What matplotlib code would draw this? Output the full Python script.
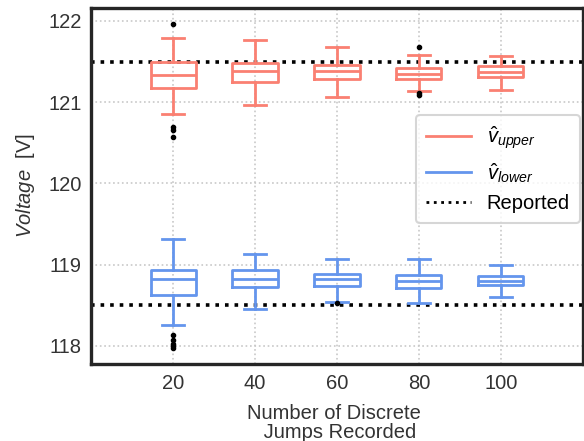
import matplotlib.pyplot as plt
import numpy as np

plt.rcParams['font.family'] = ['Liberation Sans', 'DejaVu Sans']
plt.rcParams['mathtext.fontset'] = 'custom'
plt.rcParams['mathtext.rm'] = 'Liberation Sans'
plt.rcParams['mathtext.it'] = 'Liberation Sans:italic'

jumps = [20, 40, 60, 80, 100]
reported_upper = 121.5
reported_lower = 118.5

# upper estimate: whisker low, q1, median, q3, whisker high
up_whislo = [120.86, 120.96, 121.07, 121.14, 121.15]
up_q1 = [121.17, 121.25, 121.29, 121.29, 121.31]
up_med = [121.34, 121.38, 121.38, 121.35, 121.37]
up_q3 = [121.49, 121.48, 121.46, 121.42, 121.44]
up_whishi = [121.79, 121.77, 121.68, 121.58, 121.57]
up_fliers = [[121.96, 120.69, 120.66, 120.57], [], [], [121.68, 121.11, 121.09], []]

# lower estimate
lo_whislo = [118.26, 118.46, 118.54, 118.53, 118.60]
lo_q1 = [118.63, 118.73, 118.74, 118.71, 118.75]
lo_med = [118.83, 118.83, 118.82, 118.80, 118.80]
lo_q3 = [118.94, 118.93, 118.89, 118.87, 118.86]
lo_whishi = [119.32, 119.13, 119.07, 119.07, 119.00]
lo_fliers = [[118.14, 118.07, 118.03, 118.00, 117.97], [], [118.53], [], []]


def make_stats(whislo, q1, med, q3, whishi, fliers):
    return [dict(whislo=a, q1=b, med=c, q3=d, whishi=e, fliers=f)
            for a, b, c, d, e, f in zip(whislo, q1, med, q3, whishi, fliers)]


fig = plt.figure(figsize=(5.84, 4.41), dpi=100)
ax = fig.add_axes([0.156, 0.175, 0.842, 0.807])

red = '#fa8072'
blue = '#6495ed'
flier = dict(marker='o', markerfacecolor='black', markeredgecolor='black', markersize=3)

for stats, col in [(make_stats(up_whislo, up_q1, up_med, up_q3, up_whishi, up_fliers), red),
                   (make_stats(lo_whislo, lo_q1, lo_med, lo_q3, lo_whishi, lo_fliers), blue)]:
    lp = dict(color=col, linewidth=2)
    ax.bxp(stats, positions=jumps, widths=11, boxprops=lp, whiskerprops=lp,
           capprops=lp, medianprops=lp, flierprops=flier, manage_ticks=False)

ax.axhline(reported_upper, color='black', linestyle=':', linewidth=2.6, zorder=1)
ax.axhline(reported_lower, color='black', linestyle=':', linewidth=2.6, zorder=1)

ax.plot([], [], color=red, linewidth=2, label=r'$\hat{v}_{upper}$')
ax.plot([], [], color=blue, linewidth=2, label=r'$\hat{v}_{lower}$')
ax.plot([], [], color='black', linestyle=':', linewidth=2, label='Reported')

ax.set_xlim(0, 120)
ax.set_ylim(117.78, 122.16)
ax.set_xticks(jumps)
ax.set_xticklabels([str(j) for j in jumps])
ax.set_yticks([118, 119, 120, 121, 122])
ax.tick_params(length=0, labelsize=14.5, labelcolor='#333333', pad=7)
ax.grid(True, linestyle=':', color='#c8c8c8', linewidth=1.2)
ax.set_axisbelow(True)
for s in ax.spines.values():
    s.set_linewidth(2.4)
    s.set_color('#262626')

ax.set_xlabel('Number of Discrete \n Jumps Recorded', fontsize=14.5, color='#333333',
              linespacing=1.0, labelpad=8)
ax.set_ylabel(r'$Voltage$  [V]', fontsize=14.5, color='#333333', labelpad=8)

leg = ax.legend(loc='upper right', bbox_to_anchor=(0.994, 0.70), borderaxespad=0,
                fontsize=14.5, frameon=True, fancybox=True, edgecolor='#cccccc',
                handlelength=2.2, borderpad=0.5, labelspacing=0.45)
leg.get_frame().set_linewidth(1.5)

fig.savefig('out.png', dpi=100)
